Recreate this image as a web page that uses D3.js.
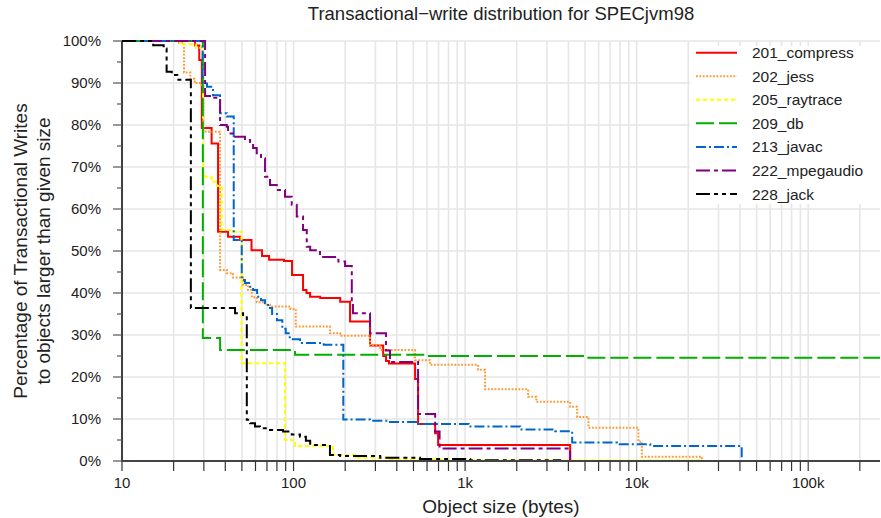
<!DOCTYPE html>
<html><head><meta charset="utf-8">
<script src="https://cdn.jsdelivr.net/npm/d3@7/dist/d3.min.js"></script>
<style>
body{margin:0;background:#fff;}
svg{font-family:"Liberation Sans", Arial, sans-serif;}
</style></head><body>
<svg id="chart" width="881" height="518"></svg>
<script>
// ---------- data (object size in bytes, % of writes to larger objects) ----------
const seriesNames = ["201_compress","202_jess","205_raytrace","209_db","213_javac","222_mpegaudio","228_jack"];
const seriesColors = ["#ff0000","#ff9933","#ffff00","#00b000","#0066cc","#800080","#000000"];
const seriesDashes = ["none","1.8,1.6","4.5,2.5","18,5","10,3,2,3","14,4,4,4","14,4,4,4,4,4"];

const compressSize = [10,26.7,28.2,29.2,33.3,36.3,41.5,48.8,56.9,65.5,72,88,98,113.6,119,124.8,143,187,213.5,279,333,346,360,511,532,669,696,4096,262144];
const compressPct  = [100,98.9,95.5,79.3,75.6,54.6,53.4,52.6,50.2,48.8,47.9,47.6,44.3,40.7,40,39.1,38.8,37.9,33.2,27.5,25,23.8,23.2,19.5,8.8,6.6,3.8,0,0];

const jessSize = [10,21.5,23,25,26.5,29,29.8,37.3,40.8,44.4,50.8,54.3,57.1,61,68,72.9,96,103,163,187,279,320,511,625,1191,1308,2330,2600,4096,4500,5236,10240,10723,24000,262144];
const jessPct  = [100,99.6,92.5,91,90,89.5,78.4,45.5,44.7,43.7,41.9,40.7,39,37.8,37.2,36.8,36.2,32,30.4,29.8,27.6,26.4,24,22.9,21.7,17.1,15.3,14.1,12.9,10.5,7.9,4.6,1.0,0,0];

const raytraceSize = [10,21.8,27,29.7,30.5,33.3,35.7,38.1,44,49.7,89.2,102,170,233,365,1000,24000,262144];
const raytracePct  = [100,99.2,98.4,68.5,67.7,66.5,65.5,55,54.6,23.3,5,3.6,1.4,0.8,0.3,0.1,0,0];

const dbSize = [10,29.6,37.3,102,600,5000,262144];
const dbPct  = [100,29.3,26.4,25.3,25.0,24.6,24.6];

const javacSize = [10,29.5,31.3,33.9,37.3,40.8,44.8,49.9,52.1,55.8,58.1,61.3,64.6,68.2,71,75,80,86,90,95,109,150,195,279,365,532,1050,2093,3349,4207,7665,12000,40960,262144];
const javacPct  = [100,89.9,89.1,87.1,82.8,82.0,52.6,43.1,42.4,41.5,40.7,39.1,38.3,37.6,36.4,35,33.5,31.5,30.4,29,28.1,27.7,9.9,9.6,9.3,8.8,8.2,7.5,7.1,4.4,4.0,3.6,0,0];

const mpegSize = [10,30.5,33.9,37.3,40.8,41.5,44.4,52.1,55.8,58.1,61,64.6,68.2,72.9,79.8,89.2,97.6,104.4,113.6,119.4,125,142.7,182.5,199.7,218.5,222,279.3,346,365,532,669,710,4096,262144];
const mpegPct  = [100,86.9,86.5,80.0,79.6,78,77.2,76.4,75.6,74.5,73.3,72.1,67.7,65.7,64.5,62.9,61,58.2,55,51,50.2,48.6,47.5,46.4,37.5,35.2,30.4,26.3,23.6,11.2,7.0,3.0,0,0];

const jackSize = [10,15.2,17.5,18.2,19.5,21,25.2,45.6,50.8,53.4,55.8,59.6,63.8,72.9,86.9,97.6,109,118,125,163,187,320,546,1070,3581,262144];
const jackPct  = [100,99,98.2,92.7,91.9,90.8,36.4,35.2,34.5,9.8,9.0,8.2,7.8,7.4,7.0,6.3,5.8,4.8,3.8,1.4,1.2,0.8,0.5,0.2,0,0];

const seriesSizes = [compressSize,jessSize,raytraceSize,dbSize,javacSize,mpegSize,jackSize];
const seriesPcts  = [compressPct,jessPct,raytracePct,dbPct,javacPct,mpegPct,jackPct];

const yTickValues = [0,10,20,30,40,50,60,70,80,90,100];
const xLabelValues = [10,100,1000,10000,100000];
const xLabelTexts = ["10","100","1k","10k","100k"];

// ---------- layout ----------
const L = 122, R = 880, T = 41, B = 461;
const svg = d3.select("#chart");

const x = d3.scaleLog().domain([10, 262144]).range([L, R]);
const y = d3.scaleLinear().domain([0, 100]).range([B, T]);

const xTicks = [];
for (let d = 10; d <= 100000; d *= 10) for (let m = 1; m <= 9; m++) { const v = d*m; if (v <= 262144) xTicks.push(v); }

// grid
const grid = svg.append("g");
grid.selectAll("line.vx").data(xTicks.filter(v => v > 10)).enter().append("line")
  .attr("x1", d => x(d)).attr("x2", d => x(d)).attr("y1", T).attr("y2", B)
  .attr("stroke", "#e6e6e6").attr("stroke-width", 1.6);
grid.selectAll("line.hy").data(yTickValues.filter(v => v > 0)).enter().append("line")
  .attr("x1", L).attr("x2", R).attr("y1", d => y(d)).attr("y2", d => y(d))
  .attr("stroke", "#e6e6e6").attr("stroke-width", 1.6);

// series
svg.append("clipPath").attr("id","clip").append("rect")
  .attr("x", L).attr("y", T-2).attr("width", R-L+1).attr("height", B-T+4);
const lineGen = d3.line().x(d => x(d[0])).y(d => y(d[1])).curve(d3.curveStepAfter);
const lines = svg.append("g").attr("clip-path","url(#clip)");
seriesNames.forEach((name, i) => {
  const pts = seriesSizes[i].map((s, j) => [s, seriesPcts[i][j]]);
  lines.append("path").attr("d", lineGen(pts))
    .attr("fill", "none").attr("stroke", seriesColors[i]).attr("stroke-width", 2)
    .attr("stroke-dasharray", seriesDashes[i]);
});

// axes
const axY = svg.append("g");
axY.append("line").attr("x1", L).attr("x2", L).attr("y1", T).attr("y2", B).attr("stroke", "#000").attr("stroke-width", 1.5);
axY.selectAll("line.maj").data(yTickValues).enter().append("line")
  .attr("x1", L-9).attr("x2", L).attr("y1", d => y(d)).attr("y2", d => y(d)).attr("stroke", "#555").attr("stroke-width", 1.2);
axY.selectAll("line.min").data(d3.range(5, 100, 10)).enter().append("line")
  .attr("x1", L-5).attr("x2", L).attr("y1", d => y(d)).attr("y2", d => y(d)).attr("stroke", "#555").attr("stroke-width", 1.2);
axY.selectAll("text").data(yTickValues).enter().append("text")
  .attr("x", L-21).attr("y", d => y(d)).attr("dy", "0.36em").attr("text-anchor", "end")
  .attr("font-size", 15).attr("fill", "#222").text(d => d + "%");

const axX = svg.append("g");
axX.append("line").attr("x1", L).attr("x2", R).attr("y1", B).attr("y2", B).attr("stroke", "#444").attr("stroke-width", 2);
axX.selectAll("line.t").data(xTicks).enter().append("line")
  .attr("x1", d => x(d)).attr("x2", d => x(d)).attr("y1", B).attr("y2", B+10).attr("stroke", "#333").attr("stroke-width", 1.2);
axX.selectAll("text").data(xLabelValues).enter().append("text")
  .attr("x", d => x(d)).attr("y", 488).attr("text-anchor", "middle")
  .attr("font-size", 15).attr("fill", "#222").text((d, i) => xLabelTexts[i]);

// titles
svg.append("text").attr("x", (L+R)/2).attr("y", 20).attr("text-anchor", "middle")
  .attr("font-size", 18.5).attr("fill", "#222").text("Transactional\u2212write distribution for SPECjvm98");
svg.append("text").attr("x", (L+R)/2).attr("y", 513).attr("text-anchor", "middle")
  .attr("font-size", 19).attr("fill", "#222").text("Object size (bytes)");
svg.append("text").attr("transform", `translate(27,${(T+B)/2}) rotate(-90)`).attr("text-anchor", "middle")
  .attr("font-size", 19).attr("fill", "#222").text("Percentage of Transactional Writes");
svg.append("text").attr("transform", `translate(50,${(T+B)/2}) rotate(-90)`).attr("text-anchor", "middle")
  .attr("font-size", 19).attr("fill", "#222").text("to objects larger than given size");

// legend
const lg = svg.append("g");
lg.append("rect").attr("x", 690).attr("y", 46).attr("width", 190).attr("height", 158).attr("fill", "#fff");
seriesNames.forEach((name, i) => {
  const cy = 52.7 + i * 23.55;
  lg.append("line").attr("x1", 696).attr("x2", 737).attr("y1", cy).attr("y2", cy)
    .attr("stroke", seriesColors[i]).attr("stroke-width", 2).attr("stroke-dasharray", seriesDashes[i]);
  lg.append("text").attr("x", 752).attr("y", cy).attr("dy", "0.36em")
    .attr("font-size", 15.5).attr("fill", "#222").text(name);
});
</script>
</body></html>
